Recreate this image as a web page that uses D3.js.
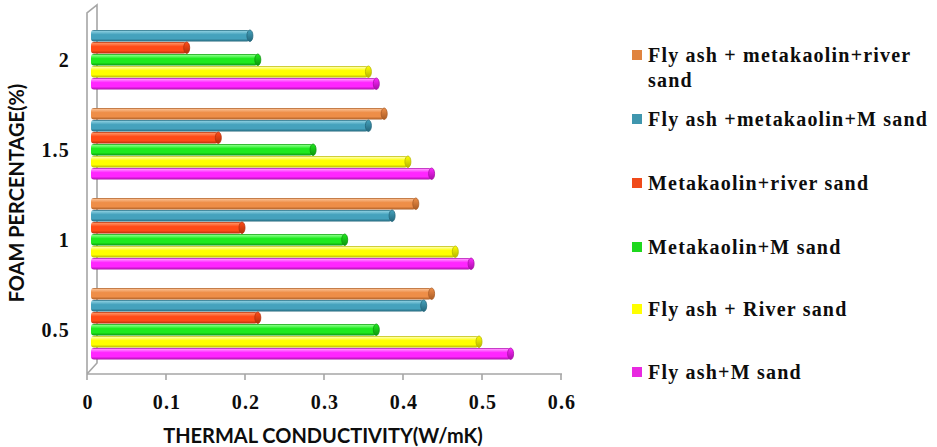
<!DOCTYPE html>
<html><head><meta charset="utf-8">
<script src="https://cdn.jsdelivr.net/npm/d3@7"></script>
<style>
html,body{margin:0;padding:0;background:#fff;}
svg{display:block;}
.serif{font-family:"Liberation Serif","Times New Roman",serif;font-weight:bold;font-size:20px;letter-spacing:1.2px;fill:#0d0d0d;}
.title{font-family:Lato,"Liberation Sans",sans-serif;font-weight:bold;font-size:20px;fill:#0d0d0d;}
</style></head>
<body>
<svg id="c" width="937" height="447"></svg>
<script>
// ---- data ----
const categories = ["0.5", "1", "1.5", "2"];
const seriesNames = ["Fly ash + metakaolin+river sand", "Fly ash +metakaolin+M sand", "Metakaolin+river sand", "Metakaolin+M sand", "Fly ash + River sand", "Fly ash+M sand"];
const flyMetaRiver = [0.44, 0.42, 0.38, null];
const flyMetaM     = [0.43, 0.39, 0.36, 0.21];
const metaRiver    = [0.22, 0.20, 0.17, 0.13];
const metaM        = [0.37, 0.33, 0.29, 0.22];
const flyRiver     = [0.50, 0.47, 0.41, 0.36];
const flyM         = [0.54, 0.49, 0.44, 0.37];
const xTicks = [0, 0.1, 0.2, 0.3, 0.4, 0.5, 0.6];
const xTitle = "THERMAL CONDUCTIVITY(W/mK)";
const yTitle = "FOAM PERCENTAGE(%)";

const seriesValues = [flyMetaRiver, flyMetaM, metaRiver, metaM, flyRiver, flyM];
const colors = [
  {base:"#EE8E48", light:"#F8B887", dark:"#A95C26", key:"#E0843F"},
  {base:"#45A2BD", light:"#84CADC", dark:"#24677C", key:"#3F96AE"},
  {base:"#FF4B17", light:"#FF8A5A", dark:"#B2300C", key:"#F04A1A"},
  {base:"#1EEA1E", light:"#7BFF7B", dark:"#0E950E", key:"#1ED81E"},
  {base:"#FFFF00", light:"#FFFF9A", dark:"#B5B500", key:"#FFFF00"},
  {base:"#FF26FF", light:"#FF8AFF", dark:"#A80FA8", key:"#E829E0"}
];

const svg = d3.select("#c");
const defs = svg.append("defs");
colors.forEach((c,i)=>{
  const g = defs.append("linearGradient").attr("id","g"+i).attr("x1",0).attr("y1",0).attr("x2",0).attr("y2",1);
  g.append("stop").attr("offset","0%").attr("stop-color",c.dark);
  g.append("stop").attr("offset","12%").attr("stop-color",c.light);
  g.append("stop").attr("offset","40%").attr("stop-color",c.base);
  g.append("stop").attr("offset","75%").attr("stop-color",c.base);
  g.append("stop").attr("offset","100%").attr("stop-color",c.dark);
  const e = defs.append("linearGradient").attr("id","e"+i).attr("x1",0).attr("y1",0).attr("x2",0).attr("y2",1);
  e.append("stop").attr("offset","0%").attr("stop-color",c.base);
  e.append("stop").attr("offset","100%").attr("stop-color",c.dark);
});

const x = d3.scaleLinear().domain([0,0.6]).range([87,561]);
const y = d3.scaleBand().domain(categories.slice().reverse()).range([18,360]).paddingInner(0.2).paddingOuter(0);
const yIn = d3.scaleBand().domain(d3.range(seriesNames.length)).range([0,y.bandwidth()]);
const depth = 4;

// 3D frame
const frame = svg.append("g").attr("stroke","#a6a6a6").attr("fill","none").attr("stroke-width",1.6);
frame.append("path").attr("d",`M${x(0)},374 L${x(0)},13 L${x(0)+10},5 L${x(0)+10},363 L${x(0)},374`);

// bars
const rows = [];
seriesValues.forEach((vals,si)=>vals.forEach((v,ci)=>{ if(v!=null) rows.push({si,ci,v}); }));
const bars = svg.append("g");
const bh = yIn.bandwidth()-0.5;
rows.forEach(r=>{
  const y0 = y(categories[r.ci]) + yIn(r.si);
  const x0 = x(0)+depth, x1 = x(r.v);
  bars.append("rect").attr("x",x0).attr("y",y0).attr("width",x1-x0-3).attr("height",bh)
    .attr("rx",3).attr("fill",`url(#g${r.si})`);
  bars.append("ellipse").attr("cx",x1-3).attr("cy",y0+bh/2).attr("rx",3).attr("ry",bh/2)
    .attr("fill",`url(#e${r.si})`).attr("stroke",colors[r.si].dark).attr("stroke-width",0.8);
});

// x axis
const xa = svg.append("g").attr("transform","translate(0,374)");
xa.append("line").attr("x1",x(0)).attr("x2",x(0.6)+1).attr("stroke","#a6a6a6").attr("stroke-width",1.6);
xa.selectAll(".t").data(xTicks).join("line").attr("x1",d=>x(d)).attr("x2",d=>x(d)).attr("y1",0).attr("y2",6)
  .attr("stroke","#a6a6a6").attr("stroke-width",1.6);
svg.append("g").selectAll("text").data(xTicks).join("text").attr("class","serif")
  .attr("x",d=>x(d)+1).attr("y",409).attr("text-anchor","middle").text(d=>d===0?"0":d3.format(".1f")(d));

// y labels
svg.append("g").selectAll("text").data(categories).join("text").attr("class","serif")
  .attr("x",70).attr("y",d=>y(d)+y.bandwidth()/2+13).attr("text-anchor","end").text(d=>d);

// titles
svg.append("text").attr("class","title").attr("x",323).attr("y",443).attr("text-anchor","middle").text(xTitle);
svg.append("text").attr("class","title").attr("transform","translate(24,193) rotate(-90)").attr("text-anchor","middle").text(yTitle);

// legend
const legendY = [55,119,183,247,309,372];
const lg = svg.append("g");
const order = d3.range(seriesNames.length);
order.forEach(i=>{
  lg.append("rect").attr("x",632).attr("y",legendY[i]-5).attr("width",10).attr("height",10).attr("fill",colors[i].key);
  const t = lg.append("text").attr("class","serif").attr("x",648).attr("y",legendY[i]+7);
  if(i===0){
    t.append("tspan").attr("x",648).text("Fly ash + metakaolin+river");
    t.append("tspan").attr("x",648).attr("dy",25).text("sand");
  } else t.text(seriesNames[i]);
});
</script>
</body></html>
